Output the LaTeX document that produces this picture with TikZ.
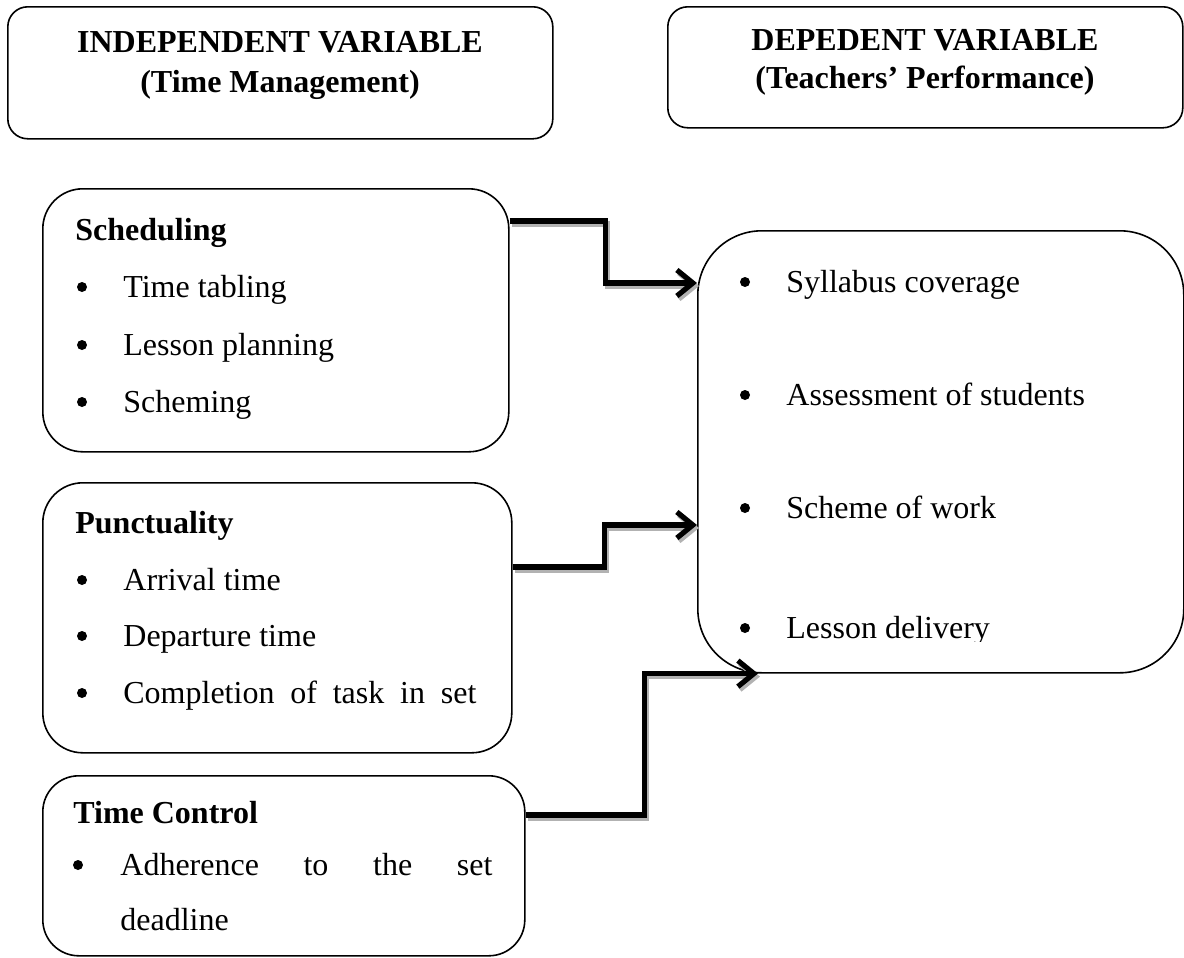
\documentclass[tikz,border=0pt]{standalone}
\usepackage{fontspec}
\setmainfont{Liberation Serif}
\usetikzlibrary{calc}
\usetikzlibrary{arrows.meta}
\tikzstyle{box} = [draw=black,line width=0.8pt,inner sep=0pt,anchor=north west]
\tikzstyle{txt} = [inner sep=0pt,anchor=base west,font=\fontsize{16}{19}\selectfont]
\tikzstyle{head} = [inner sep=0pt,anchor=base west,font=\fontsize{16}{19}\selectfont\bfseries]
\tikzstyle{dot} = [circle,fill=black,inner sep=0pt,minimum size=5pt]
\tikzstyle{flow} = [->,line width=2.6pt,preaction={draw=gray!60,->,line width=2.6pt,transform canvas={shift={(1pt,-1.5pt)}}}]
\tikzset{>={Straight Barb[length=8pt,width=13pt]}}

\begin{document}
\begin{tikzpicture}[x=0.5pt,y=-0.5pt]
  \useasboundingbox (0,0) rectangle (1184,958);

  % top boxes
  \node [box,rounded corners=10pt,minimum width=272.5pt,minimum height=66pt] (indep) at (7,6) {};
  \node [head,anchor=base] (it1) at (280,52) {INDEPENDENT VARIABLE};
  \node [head,anchor=base] (it2) at (280,92) {(Time Management)};

  \node [box,rounded corners=10pt,minimum width=257.5pt,minimum height=60.5pt] (dep) at (667,6) {};
  \node [head,anchor=base] (dt1) at (925,50) {DEPEDENT VARIABLE};
  \node [head,anchor=base] (dt2) at (925,88) {(Teachers’ Performance)};

  % scheduling
  \node [box,rounded corners=20pt,minimum width=233pt,minimum height=131.5pt] (sched) at (42,188) {};
  \node [head] (sh) at (75,240) {Scheduling};
  \node [dot] (sb1) at (82,287) {};
  \node [txt] (s1) at (123,297) {Time tabling};
  \node [dot] (sb2) at (82,345) {};
  \node [txt] (s2) at (123,355) {Lesson planning};
  \node [dot] (sb3) at (82,402) {};
  \node [txt] (s3) at (123,412) {Scheming};

  % punctuality
  \node [box,rounded corners=20pt,minimum width=234.5pt,minimum height=135pt] (punct) at (42,482) {};
  \node [head] (ph) at (75,533) {Punctuality};
  \node [dot] (pb1) at (82,580) {};
  \node [txt] (p1) at (123,590) {Arrival time};
  \node [dot] (pb2) at (82,636) {};
  \node [txt] (p2) at (123,646) {Departure time};
  \node [dot] (pb3) at (82,693) {};
  \node [txt] (p3) at (123,703) {\makebox[176.5pt][s]{Completion of task in set}};

  % time control
  \node [box,rounded corners=18pt,minimum width=241pt,minimum height=90pt] (tc) at (42,775) {};
  \node [head] (th) at (73,823) {Time Control};
  \node [dot] (tb1) at (78,865) {};
  \node [txt] (t1) at (120,875) {\makebox[186pt][s]{Adherence to the set}};
  \node [txt] (t2) at (120,930) {deadline};

  % teachers performance
  \node [box,rounded corners=32pt,minimum width=243pt,minimum height=221pt] (res) at (697,230) {};
  \node [dot] (rb1) at (745,282) {};
  \node [txt] (r1) at (786,292) {Syllabus coverage};
  \node [dot] (rb2) at (745,395) {};
  \node [txt] (r2) at (786,405) {Assessment of students};
  \node [dot] (rb3) at (745,508) {};
  \node [txt] (r3) at (786,518) {Scheme of work};
  \node [dot] (rb4) at (745,628) {};
  \begin{scope}
    \clip (697,600) rectangle (1184,641);
    \node [txt] (r4) at (786,638) {Lesson delivery};
  \end{scope}

  \draw [flow] ($(sched.north east)+(0,33)$) -- ++(96,0) |- ($(res.north west)+(0,53)$);
  \draw [flow] ($(punct.north east)+(0,85)$) -- ++(92,0) |- ($(res.north west)+(0,295)$);
  \draw [flow] ($(tc.north east)+(0,40)$) -- ++(119,0) |- ($(res.south west)+(61,0)$);

\end{tikzpicture}
\end{document}
